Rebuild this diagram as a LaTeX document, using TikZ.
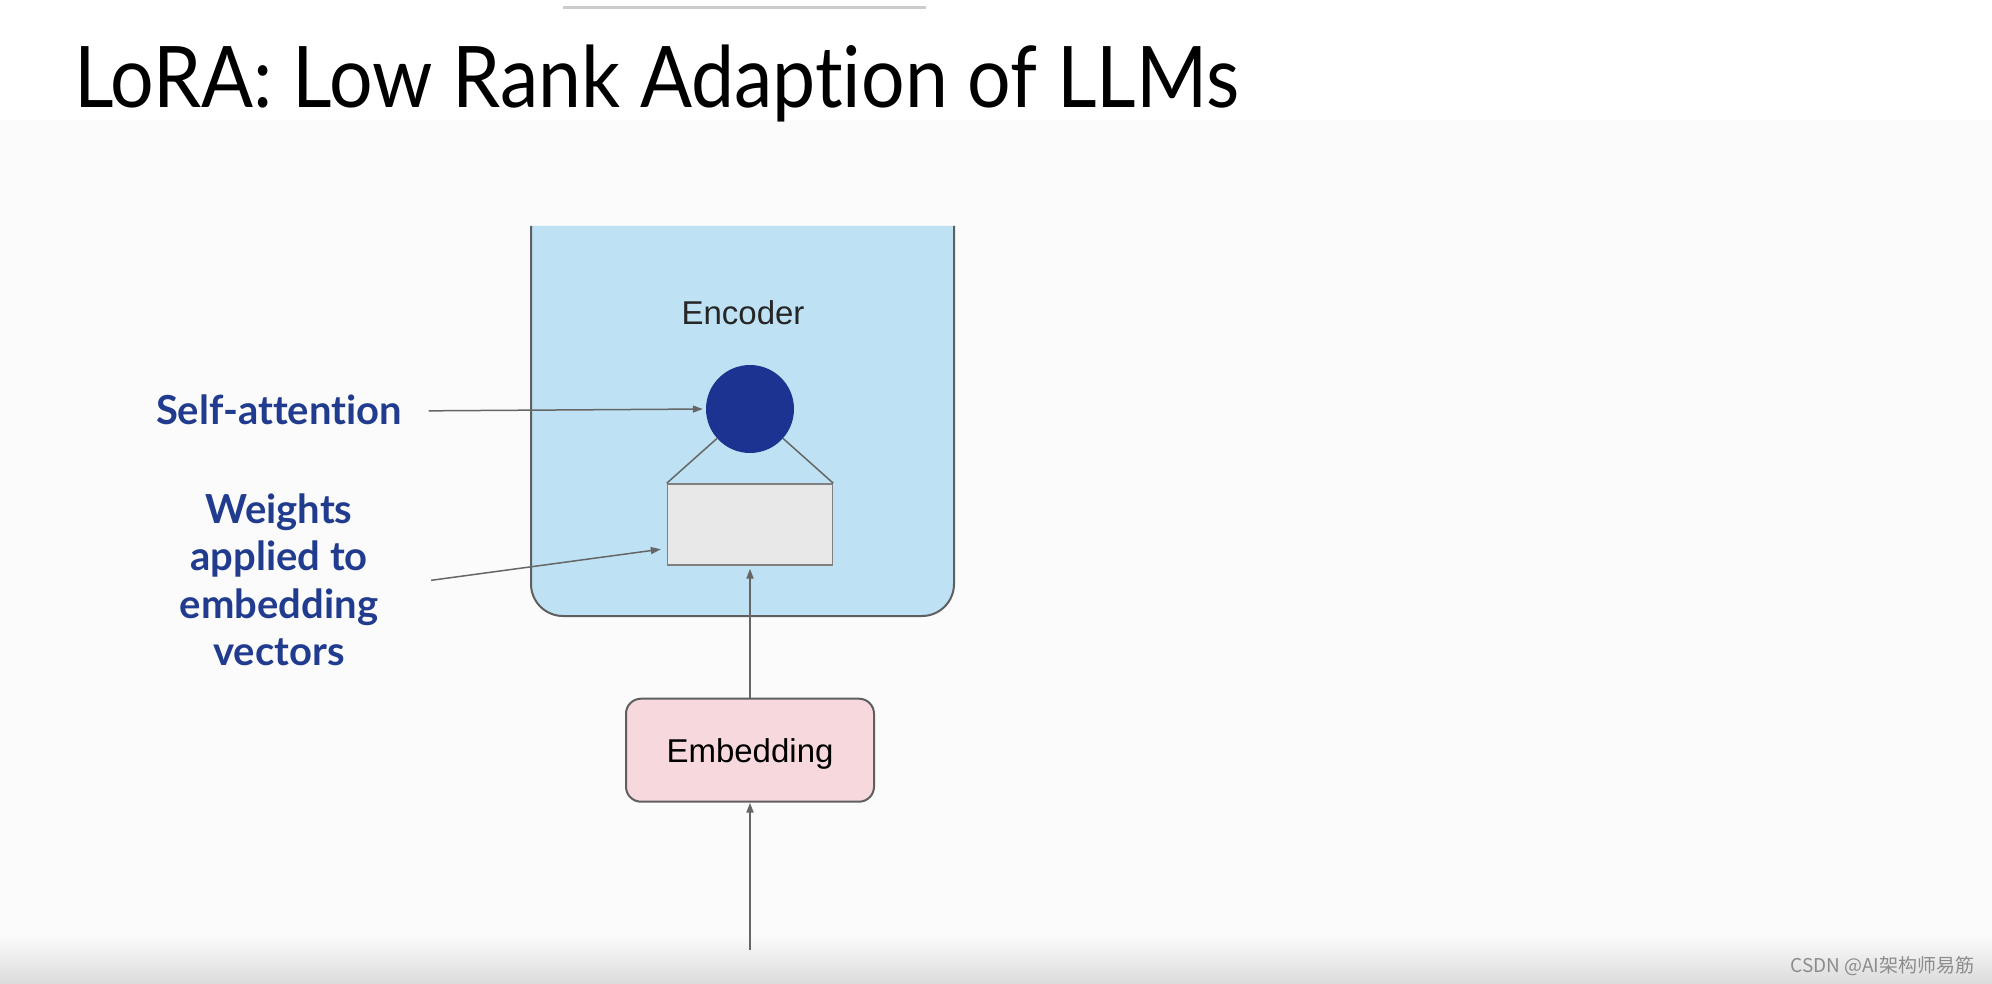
\documentclass[tikz,border=0pt]{standalone}
\usepackage{fontspec}
\setmainfont{Lato}[Ligatures=NoCommon]
\newfontfamily\titlefont{Lato}[Ligatures=NoCommon, FakeStretch=0.905]
\newfontfamily\slidefont{Liberation Sans}
\newfontfamily\cjkfont{Noto Sans CJK SC}
\usetikzlibrary{positioning, arrows.meta, calc}
\definecolor{encblue}{HTML}{BEE2F3}
\definecolor{attblue}{HTML}{1D3391}
\definecolor{lblblue}{HTML}{213C8E}
\definecolor{rectfill}{HTML}{E8E8E8}
\definecolor{embpink}{HTML}{F7D9DD}
\definecolor{edgegray}{HTML}{5F5F5F}
\definecolor{linegray}{HTML}{666666}
\definecolor{bggray}{HTML}{FBFBFB}

\begin{document}
\begin{tikzpicture}[
    x=1pt, y=-1pt,
    >={Triangle[length=10pt,width=7pt]},
    title/.style={anchor=base west, inner sep=0pt, font=\titlefont\fontsize{85}{100}\selectfont},
    label/.style={align=center, text=lblblue, font=\bfseries\fontsize{40}{47.5}\selectfont},
    encbox/.style={draw=edgegray, fill=encblue, line width=2pt, rounded corners=32pt},
    attn/.style={circle, fill=attblue, minimum size=88pt, inner sep=0pt},
    weights/.style={draw=gray, fill=rectfill, minimum width=165pt, minimum height=81pt, line width=1.5pt},
    embed/.style={draw=edgegray, fill=embpink, rounded corners=15pt, minimum width=248pt, minimum height=103pt, line width=2pt, text depth=0pt, font=\slidefont\fontsize{33}{40}\selectfont},
    link/.style={->, draw=linegray, line width=2pt},
    pointer/.style={->, draw=linegray, line width=1.5pt},
]
% background
\useasboundingbox (0,0) rectangle (1992,984);
\fill[white] (0,0) rectangle (1992,984);
\fill[bggray] (0,120) rectangle (1992,984);
\shade[top color=bggray, bottom color=black!14] (0,935) rectangle (1992,984);
\draw[black!20, line width=3pt] (563,8) -- (926,8);

\node[title] (title) at (74,108) {LoRA: Low Rank Adaption of LLMs};

% encoder block, open at the top
\draw[encbox] (531,226) -- (531,616) -- (954,616) -- (954,226);
\node[font=\slidefont\fontsize{33}{40}\selectfont, text=black!85] (enc) at (743,313) {Encoder};

\node[attn] (attn) at (750,409) {};
\node[weights, below=30pt of attn] (wrect) {};
\node[embed, below=132pt of wrect] (embed) {Embedding};
\coordinate (input) at (750,950);

\draw[linegray, line width=1.5pt] (attn) -- (wrect.north west);
\draw[linegray, line width=1.5pt] (attn) -- (wrect.north east);

\draw[link, shorten >=3pt] (embed) -- (wrect);
\draw[link] (input) -- (embed);

% labels on the left
\node[label] (selfatt) at (279,410) {Self-attention};
\node[label] (wlabel) at (279,580) {Weights\\applied to\\embedding\\vectors};

\draw[pointer, shorten <=23pt, shorten >=3pt] ([yshift=-1pt]selfatt.east) -- (attn.west);
\draw[pointer, shorten <=50pt, shorten >=6pt] ([yshift=-7pt]wlabel.east) -- ([yshift=-24pt]wrect.west);

\node[anchor=east, text=black!45, font=\cjkfont\fontsize{19}{21}\selectfont] (mark) at (1978,966) {CSDN @AI架构师易筋};
\end{tikzpicture}
\end{document}
